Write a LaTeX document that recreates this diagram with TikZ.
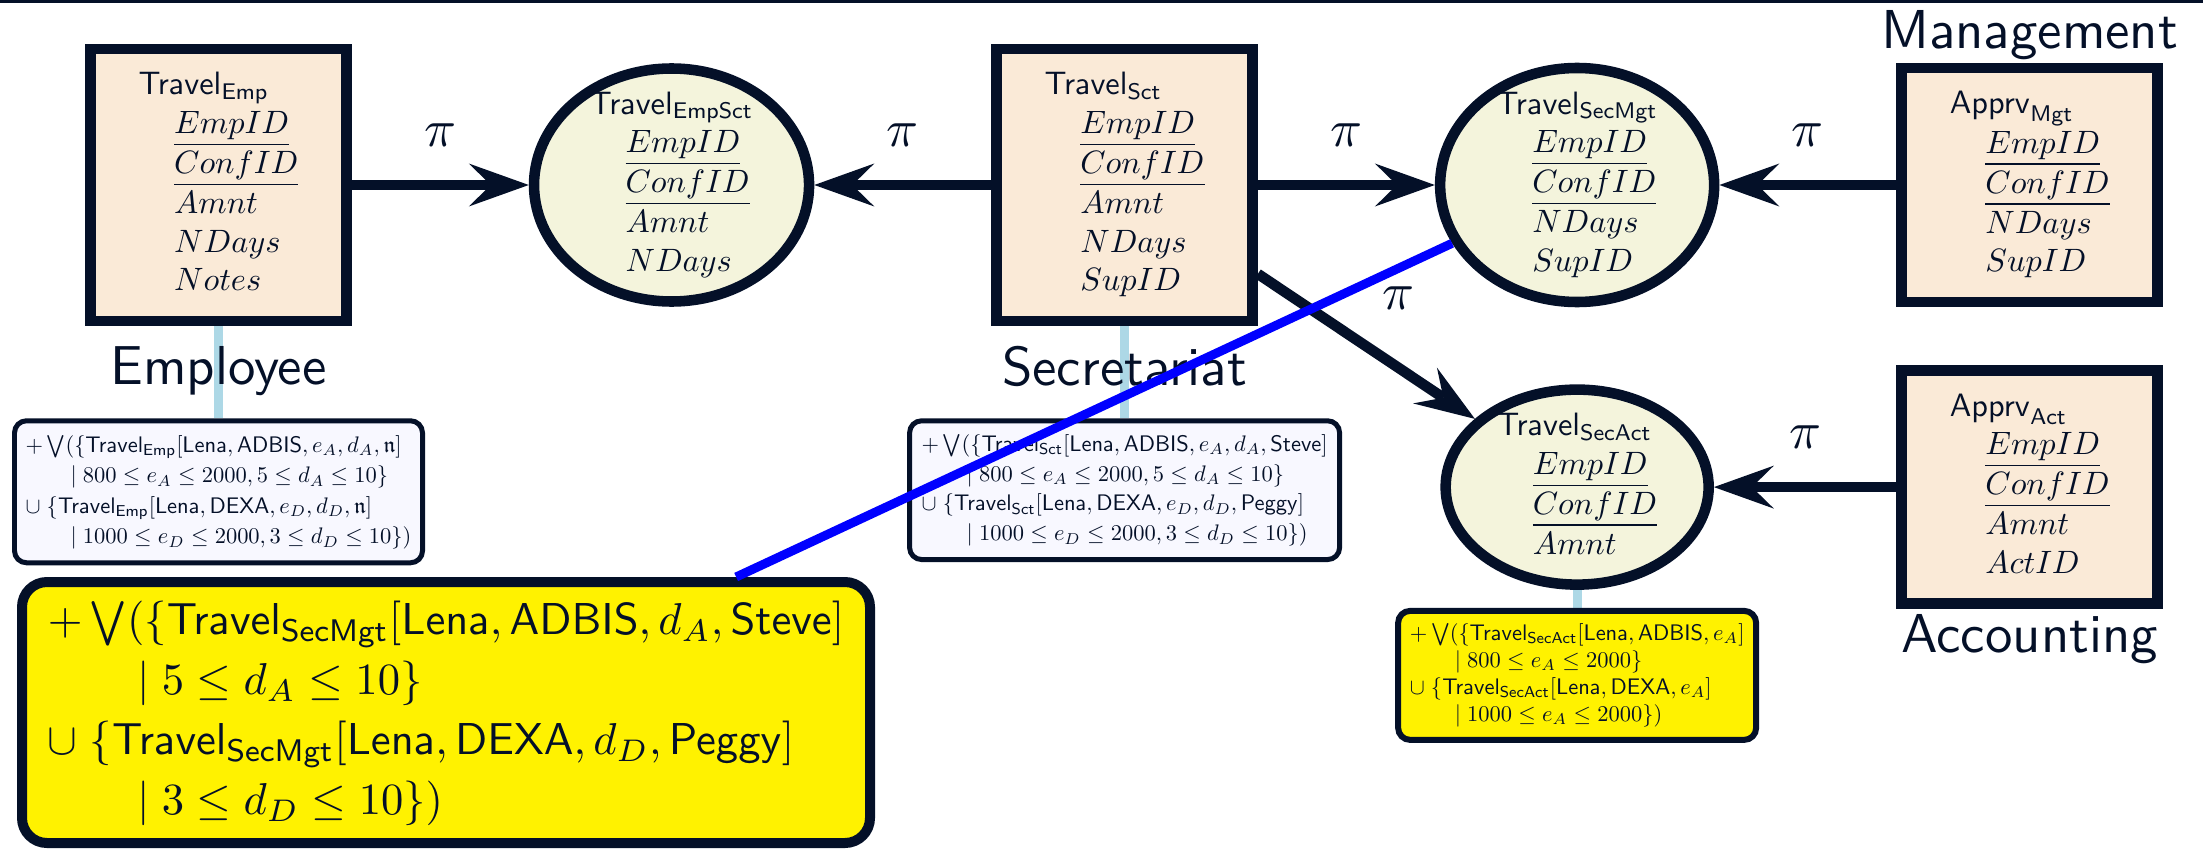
\documentclass[tikz,border=0pt]{standalone}
\usepackage{amsmath,amssymb}
\usepackage{graphicx}
\usetikzlibrary{positioning,arrows.meta,backgrounds,shapes.geometric}
\definecolor{frameink}{RGB}{4,16,40}
\definecolor{relfill}{RGB}{250,234,215}
\definecolor{viewfill}{RGB}{244,244,220}
\definecolor{consfill}{RGB}{248,248,255}
\definecolor{linkblue}{RGB}{173,216,230}
\tikzset{
  figrel/.style={draw, line width=3pt, fill=relfill, minimum width=2.56cm, inner xsep=0pt, inner ysep=0.185cm},
  figview/.style={draw, ellipse, line width=3pt, fill=viewfill, inner sep=0pt},
  figattr/.style={inner sep=0pt},
  figcons/.style={draw, line width=1.42pt, rounded corners=0.12cm, fill=consfill, inner sep=0.1cm},
  figarrow/.style={-{Stealth[length=6mm, width=4.3mm, inset=2.2mm, line width=0pt]}, line width=3pt},
  figlabel/.style={inner sep=0pt},
  figpi/.style={inner sep=0pt},
  figlink/.style={linkblue, line width=0.09cm},
}
\newcommand{\relname}[2]{$\mathsf{#1}_{\mathsf{#2}}$}
\newcommand{\keyattr}[1]{\hspace*{11pt}$\underline{#1}$}
\newcommand{\plainattr}[1]{\hspace*{11pt}$#1$}
\newcommand{\attrblock}[1]{\scalebox{0.92}{\begin{tabular}{@{}l@{}}#1\end{tabular}}}
\newcommand{\consbody}[3]{\scalebox{#1}{\renewcommand{\arraystretch}{#2}$\begin{array}{@{}l@{}}#3\end{array}$}}
\newcommand{\sitename}[1]{\scalebox{1.56}{\sffamily #1}}
\newcommand{\proj}{\scalebox{1.5}{$\pi$}}

\begin{document}
\begin{tikzpicture}[color=frameink, node distance=1.77cm]
  \useasboundingbox (0,0) rectangle (22.03,-8.49);
  \fill (0,0) rectangle (22.03,-0.03);
  % sources and views
  \node[figrel] (emp) at (2.185,-1.85) {\attrblock{\relname{Travel}{Emp}\\\keyattr{EmpID}\\\keyattr{ConfID}\\\plainattr{Amnt}\\\plainattr{NDays}\\\plainattr{Notes}}};
  \node[figview, right=of emp, minimum width=2.75cm, minimum height=2.33cm,
    label={[figattr]center:{\attrblock{\relname{Travel}{EmpSct}\\\keyattr{EmpID}\\\keyattr{ConfID}\\\plainattr{Amnt}\\\plainattr{NDays}}}}] (empsct) {};
  \node[figrel, right=of empsct] (sct) {\attrblock{\relname{Travel}{Sct}\\\keyattr{EmpID}\\\keyattr{ConfID}\\\plainattr{Amnt}\\\plainattr{NDays}\\\plainattr{SupID}}};
  \node[figview, right=of sct, minimum width=2.74cm, minimum height=2.34cm,
    label={[figattr]center:{\attrblock{\relname{Travel}{SecMgt}\\\keyattr{EmpID}\\\keyattr{ConfID}\\\plainattr{NDays}\\\plainattr{SupID}}}}] (secmgt) {};
  \node[figrel, right=of secmgt] (mgt) {\attrblock{\relname{Apprv}{Mgt}\\\keyattr{EmpID}\\\keyattr{ConfID}\\\plainattr{NDays}\\\plainattr{SupID}}};
  \node[figrel, below=0.58cm of mgt] (act) {\attrblock{\relname{Apprv}{Act}\\\keyattr{EmpID}\\\keyattr{ConfID}\\\plainattr{Amnt}\\\plainattr{ActID}}};
  \node[figview, minimum width=2.63cm, minimum height=1.95cm,
    label={[figattr]center:{\attrblock{\relname{Travel}{SecAct}\\\keyattr{EmpID}\\\keyattr{ConfID}\\\plainattr{Amnt}}}}] (secact) at (secmgt |- act) {};
  % constraints
  \node[figcons, below=0.92cm of emp, minimum width=4.08cm, minimum height=1.35cm] (empcons)
    {\consbody{0.64}{1.13}{+\bigvee(\{\mathsf{Travel}_{\mathsf{Emp}}[\mathsf{Lena},\mathsf{ADBIS},e_A,d_A,\mathfrak{n}]\\
     \qquad\mid 800\le e_A\le 2000,5\le d_A\le 10\}\\
     \cup\;\{\mathsf{Travel}_{\mathsf{Emp}}[\mathsf{Lena},\mathsf{DEXA},e_D,d_D,\mathfrak{n}]\\
     \qquad\mid 1000\le e_D\le 2000,3\le d_D\le 10\})}};
  \node[figcons, below=0.92cm of sct, minimum width=4.3cm, minimum height=1.28cm] (sctcons)
    {\consbody{0.64}{1.1}{+\bigvee(\{\mathsf{Travel}_{\mathsf{Sct}}[\mathsf{Lena},\mathsf{ADBIS},e_A,d_A,\mathsf{Steve}]\\
     \qquad\mid 800\le e_A\le 2000,5\le d_A\le 10\}\\
     \cup\;\{\mathsf{Travel}_{\mathsf{Sct}}[\mathsf{Lena},\mathsf{DEXA},e_D,d_D,\mathsf{Peggy}]\\
     \qquad\mid 1000\le e_D\le 2000,3\le d_D\le 10\})}};
  \node[figcons, fill=yellow, line width=0.06cm, below=0.18cm of secact, minimum width=3.58cm, minimum height=1.29cm] (secactcons)
    {\consbody{0.64}{1.0}{+\bigvee(\{\mathsf{Travel}_{\mathsf{SecAct}}[\mathsf{Lena},\mathsf{ADBIS},e_A]\\
     \qquad\mid 800\le e_A\le 2000\}\\
     \cup\;\{\mathsf{Travel}_{\mathsf{SecAct}}[\mathsf{Lena},\mathsf{DEXA},e_A]\\
     \qquad\mid 1000\le e_A\le 2000\})}};
  \node[figcons, fill=yellow, line width=0.1cm, rounded corners=0.25cm, minimum width=8.48cm, minimum height=2.61cm] (bigcons) at (4.46,-7.125)
    {\consbody{1.27}{1.12}{+\bigvee(\{\mathsf{Travel}_{\mathsf{SecMgt}}[\mathsf{Lena},\mathsf{ADBIS},d_A,\mathsf{Steve}]\\
     \qquad\mid 5\le d_A\le 10\}\\
     \cup\;\{\mathsf{Travel}_{\mathsf{SecMgt}}[\mathsf{Lena},\mathsf{DEXA},d_D,\mathsf{Peggy}]\\
     \qquad\mid 3\le d_D\le 10\})}};
  % links to constraints
  \begin{scope}[on background layer]
    \draw[figlink] (emp) -- (empcons);
    \draw[figlink] (sct) -- (sctcons);
    \draw[figlink] (secact) -- (secactcons);
  \end{scope}
  % site names
  \node[figlabel, below=0.19cm of emp] (emplabel) {\sitename{Employee}};
  \node[figlabel, below=0.19cm of sct] (sctlabel) {\sitename{Secretariat}};
  \node[figlabel, above=0.02cm of mgt] (mgtlabel) {\sitename{Management}};
  \node[figlabel, below=0.05cm of act] (actlabel) {\sitename{Accounting}};
  % projections
  \draw[figarrow] (emp) -- node[figpi, yshift=0.5cm]{\proj} (empsct);
  \draw[figarrow] (sct) -- node[figpi, yshift=0.5cm]{\proj} (empsct);
  \draw[figarrow] (sct) -- node[figpi, yshift=0.5cm]{\proj} (secmgt);
  \draw[figarrow] (mgt) -- node[figpi, yshift=0.5cm]{\proj} (secmgt);
  \draw[figarrow] (act) -- node[figpi, yshift=0.5cm]{\proj} (secact);
  \draw[figarrow] (sct) -- node[figpi, xshift=0.32cm, yshift=0.48cm]{\proj} (secact);
  \draw[blue, line width=0.09cm] (secmgt) -- (bigcons);
\end{tikzpicture}
\end{document}
